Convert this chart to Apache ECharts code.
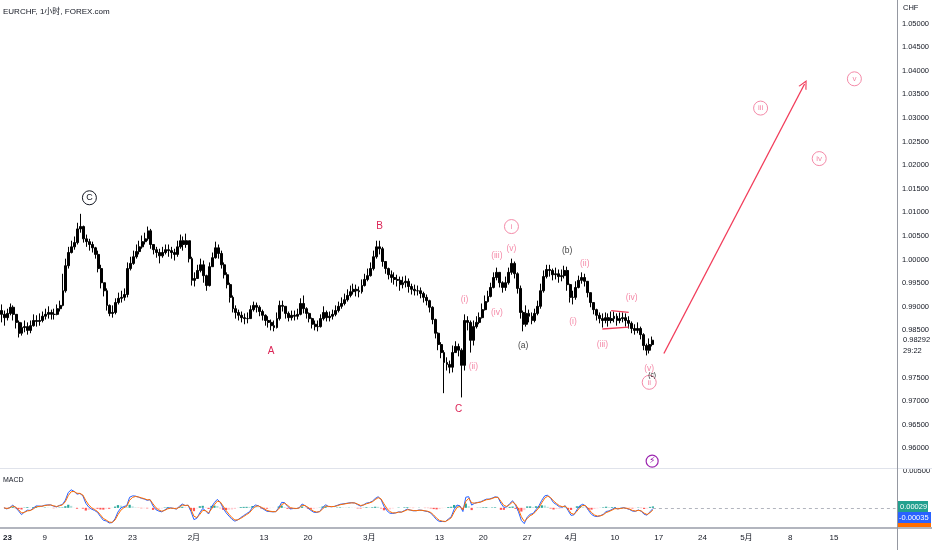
<!DOCTYPE html>
<html>
<head>
<meta charset="utf-8">
<title>EURCHF, 1小时</title>
<script src="https://cdn.jsdelivr.net/npm/echarts/dist/echarts.min.js"></script>
<style>
html, body { margin: 0; padding: 0; background: #fff; }
#main { width: 932px; height: 550px; }
</style>
</head>
<body>
<div id="main"></div>
<script>
// EURCHF 8小时K线 (由1小时图读取), 2023-01-02 起
var firstOpen = 0.9892;
var closes = [
  0.9884, 0.9877, 0.9886, 0.9899, 0.9884, 0.9867, 0.9844, 0.9856, 0.9858, 0.9850,
  0.9860, 0.9871, 0.9869, 0.9871, 0.9880, 0.9884, 0.9888, 0.9884, 0.9884, 0.9896,
  0.9903, 0.9934, 0.9987, 1.0015, 1.0027, 1.0036, 1.0065, 1.0070, 1.0044, 1.0038,
  1.0032, 1.0025, 1.0011, 0.9981, 0.9951, 0.9934, 0.9903, 0.9886, 0.9888, 0.9909,
  0.9918, 0.9920, 0.9926, 0.9981, 0.9992, 1.0006, 1.0017, 1.0027, 1.0038, 1.0044,
  1.0061, 1.0032, 1.0021, 1.0015, 1.0008, 1.0015, 1.0021, 1.0019, 1.0015, 1.0011,
  1.0027, 1.0040, 1.0032, 1.0040, 1.0002, 0.9956, 0.9960, 0.9977, 0.9989, 0.9966,
  0.9945, 0.9985, 1.0004, 1.0025, 1.0013, 0.9989, 0.9968, 0.9947, 0.9920, 0.9896,
  0.9888, 0.9882, 0.9877, 0.9875, 0.9875, 0.9894, 0.9903, 0.9899, 0.9890, 0.9882,
  0.9871, 0.9867, 0.9860, 0.9856, 0.9875, 0.9903, 0.9901, 0.9886, 0.9877, 0.9882,
  0.9880, 0.9884, 0.9907, 0.9896, 0.9886, 0.9875, 0.9863, 0.9858, 0.9858, 0.9875,
  0.9888, 0.9877, 0.9880, 0.9884, 0.9892, 0.9901, 0.9907, 0.9915, 0.9924, 0.9932,
  0.9937, 0.9934, 0.9932, 0.9945, 0.9958, 0.9966, 0.9981, 1.0006, 1.0027, 1.0023,
  0.9996, 0.9981, 0.9968, 0.9962, 0.9958, 0.9956, 0.9947, 0.9951, 0.9954, 0.9943,
  0.9937, 0.9934, 0.9934, 0.9928, 0.9920, 0.9913, 0.9899, 0.9873, 0.9844, 0.9820,
  0.9803, 0.9782, 0.9778, 0.9772, 0.9803, 0.9816, 0.9808, 0.9776, 0.9871, 0.9867,
  0.9829, 0.9858, 0.9867, 0.9877, 0.9894, 0.9911, 0.9922, 0.9941, 0.9962, 0.9973,
  0.9951, 0.9941, 0.9951, 0.9973, 0.9992, 0.9970, 0.9939, 0.9888, 0.9863, 0.9886,
  0.9880, 0.9871, 0.9886, 0.9901, 0.9934, 0.9964, 0.9979, 0.9977, 0.9968, 0.9970,
  0.9964, 0.9966, 0.9977, 0.9947, 0.9920, 0.9920, 0.9941, 0.9956, 0.9962, 0.9954,
  0.9930, 0.9909, 0.9894, 0.9882, 0.9875, 0.9871, 0.9877, 0.9871, 0.9875, 0.9880,
  0.9871, 0.9875, 0.9877, 0.9871, 0.9865, 0.9854, 0.9850, 0.9854, 0.9841, 0.9818,
  0.9808, 0.9820, 0.98292
];
var highs = [
  0.9905, 0.9892, 0.9896, 0.9907, 0.9903, 0.9884, 0.9871, 0.9867, 0.9871, 0.9867,
  0.9871, 0.9884, 0.9882, 0.9886, 0.9890, 0.9896, 0.9901, 0.9894, 0.9896, 0.9905,
  0.9913, 0.9970, 1.0002, 1.0027, 1.0040, 1.0049, 1.0078, 1.0097, 1.0072, 1.0053,
  1.0044, 1.0038, 1.0027, 1.0019, 0.9989, 0.9951, 0.9939, 0.9905, 0.9903, 0.9918,
  0.9930, 0.9934, 0.9939, 0.9994, 1.0006, 1.0019, 1.0032, 1.0040, 1.0051, 1.0057,
  1.0070, 1.0065, 1.0032, 1.0027, 1.0023, 1.0027, 1.0032, 1.0032, 1.0027, 1.0023,
  1.0040, 1.0053, 1.0049, 1.0055, 1.0040, 1.0006, 0.9973, 0.9989, 1.0002, 0.9998,
  0.9968, 0.9994, 1.0015, 1.0038, 1.0032, 1.0019, 0.9994, 0.9973, 0.9951, 0.9924,
  0.9903, 0.9894, 0.9890, 0.9886, 0.9888, 0.9903, 0.9911, 0.9909, 0.9903, 0.9894,
  0.9884, 0.9880, 0.9873, 0.9871, 0.9888, 0.9913, 0.9913, 0.9901, 0.9890, 0.9892,
  0.9892, 0.9896, 0.9918, 0.9924, 0.9899, 0.9888, 0.9877, 0.9871, 0.9871, 0.9884,
  0.9901, 0.9892, 0.9890, 0.9894, 0.9903, 0.9911, 0.9920, 0.9928, 0.9937, 0.9945,
  0.9949, 0.9947, 0.9943, 0.9958, 0.9970, 0.9981, 0.9994, 1.0019, 1.0040, 1.0040,
  1.0027, 0.9996, 0.9983, 0.9977, 0.9973, 0.9968, 0.9964, 0.9964, 0.9966, 0.9960,
  0.9949, 0.9947, 0.9945, 0.9941, 0.9932, 0.9926, 0.9915, 0.9901, 0.9875, 0.9846,
  0.9825, 0.9808, 0.9793, 0.9786, 0.9818, 0.9827, 0.9822, 0.9812, 0.9884, 0.9880,
  0.9871, 0.9871, 0.9880, 0.9888, 0.9907, 0.9924, 0.9934, 0.9951, 0.9973, 0.9983,
  0.9973, 0.9954, 0.9964, 0.9983, 1.0002, 0.9996, 0.9973, 0.9945, 0.9892, 0.9903,
  0.9894, 0.9888, 0.9896, 0.9913, 0.9949, 0.9977, 0.9989, 0.9989, 0.9981, 0.9983,
  0.9979, 0.9979, 0.9987, 0.9985, 0.9949, 0.9934, 0.9954, 0.9966, 0.9973, 0.9970,
  0.9951, 0.9930, 0.9909, 0.9896, 0.9888, 0.9886, 0.9888, 0.9886, 0.9890, 0.9890,
  0.9886, 0.9888, 0.9888, 0.9886, 0.9880, 0.9869, 0.9863, 0.9867, 0.9858, 0.9844,
  0.9822, 0.9833, 0.9837
];
var lows = [
  0.9867, 0.9860, 0.9871, 0.9882, 0.9871, 0.9854, 0.9835, 0.9839, 0.9846, 0.9841,
  0.9844, 0.9858, 0.9858, 0.9860, 0.9867, 0.9873, 0.9875, 0.9873, 0.9873, 0.9882,
  0.9890, 0.9901, 0.9930, 0.9981, 1.0013, 1.0021, 1.0032, 1.0057, 1.0036, 1.0027,
  1.0019, 1.0015, 1.0002, 0.9973, 0.9939, 0.9922, 0.9892, 0.9880, 0.9877, 0.9884,
  0.9905, 0.9909, 0.9913, 0.9920, 0.9977, 0.9989, 1.0002, 1.0011, 1.0023, 1.0032,
  1.0040, 1.0023, 1.0011, 1.0004, 0.9992, 1.0004, 1.0011, 1.0006, 1.0002, 0.9998,
  1.0006, 1.0023, 1.0019, 1.0025, 0.9994, 0.9945, 0.9943, 0.9960, 0.9973, 0.9951,
  0.9934, 0.9943, 0.9985, 1.0002, 1.0002, 0.9981, 0.9960, 0.9939, 0.9909, 0.9888,
  0.9875, 0.9871, 0.9867, 0.9863, 0.9865, 0.9875, 0.9890, 0.9888, 0.9880, 0.9871,
  0.9860, 0.9856, 0.9850, 0.9848, 0.9854, 0.9871, 0.9890, 0.9875, 0.9869, 0.9871,
  0.9871, 0.9873, 0.9882, 0.9886, 0.9875, 0.9867, 0.9854, 0.9850, 0.9848, 0.9856,
  0.9871, 0.9869, 0.9869, 0.9873, 0.9880, 0.9888, 0.9896, 0.9903, 0.9911, 0.9920,
  0.9926, 0.9922, 0.9920, 0.9928, 0.9943, 0.9954, 0.9964, 0.9977, 1.0002, 1.0011,
  0.9985, 0.9970, 0.9958, 0.9951, 0.9947, 0.9943, 0.9934, 0.9939, 0.9941, 0.9930,
  0.9926, 0.9924, 0.9924, 0.9918, 0.9909, 0.9903, 0.9888, 0.9863, 0.9833, 0.9808,
  0.9791, 0.9717, 0.9765, 0.9759, 0.9761, 0.9803, 0.9795, 0.9708, 0.9765, 0.9850,
  0.9803, 0.9818, 0.9854, 0.9863, 0.9875, 0.9892, 0.9909, 0.9920, 0.9939, 0.9956,
  0.9941, 0.9930, 0.9934, 0.9947, 0.9968, 0.9960, 0.9928, 0.9875, 0.9848, 0.9858,
  0.9867, 0.9863, 0.9867, 0.9882, 0.9896, 0.9930, 0.9960, 0.9964, 0.9956, 0.9958,
  0.9951, 0.9954, 0.9960, 0.9934, 0.9909, 0.9905, 0.9915, 0.9939, 0.9949, 0.9943,
  0.9920, 0.9899, 0.9884, 0.9871, 0.9865, 0.9856, 0.9865, 0.9858, 0.9865, 0.9867,
  0.9860, 0.9865, 0.9867, 0.9858, 0.9854, 0.9844, 0.9841, 0.9844, 0.9831, 0.9808,
  0.9797, 0.9801, 0.9816
];

// 时间轴刻度 (8小时一格, 每周15格)
var slotCount = 306;
var xTickIndex = [0, 15, 30, 45, 66, 90, 105, 126, 150, 165, 180, 195, 210, 225, 240, 255, 270, 285];
var xTickText = ['23', '9', '16', '23', '2月', '13', '20', '3月', '13', '20', '27', '4月', '10', '17', '24', '5月', '8', '15'];

// 右侧MACD读数 / 倒计时
var macdReadouts = ['0.00029', '-0.00035'];
var macdTopTick = '0.00500';
var countdown = '29:22';

// 波浪标注: [文字, 位置(格), 价格, 样式]
var waveLabels = [
  ['C', 29.5, 1.0131, 'blackCircle'],
  ['A', 92, 0.9806, 'red'],
  ['B', 129, 1.0070, 'red'],
  ['C', 156.3, 0.9683, 'red'],
  ['(i)', 157.7, 0.9915, 'pink'],
  ['(ii)', 160.8, 0.9774, 'pink'],
  ['(iii)', 169.3, 1.0008, 'pink'],
  ['(iv)', 169.3, 0.9888, 'pink'],
  ['(v)', 174.4, 1.0023, 'pink'],
  ['i', 174.1, 1.0070, 'pinkCircle'],
  ['(a)', 178.2, 0.9818, 'gray'],
  ['(b)', 193.2, 1.0019, 'gray'],
  ['(i)', 195.2, 0.9869, 'pink'],
  ['(ii)', 199, 0.9992, 'pink'],
  ['(iii)', 205.1, 0.9820, 'pink'],
  ['(iv)', 214.6, 0.9920, 'pink'],
  ['(v)', 220.8, 0.9768, 'pink'],
  ['(c)', 221.5, 0.9756, 'small'],
  ['ii', 220.8, 0.9740, 'pinkCircle'],
  ['iii', 259.3, 1.0321, 'pinkCircle'],
  ['iv', 279.4, 1.0214, 'pinkCircle'],
  ['v', 290.7, 1.0383, 'pinkCircle']
];
// 画线: [起点格, 起点价, 终点格, 终点价, 是否箭头]
var drawLines = [
  [226, 0.9801, 274, 1.0372, true],
  [205, 0.9853, 214, 0.9857, false],
  [208, 0.9892, 214, 0.9888, false]
];

var RED = '#dc2456';
var PINK = '#f48aa8';
var AXIS_FONT = "'Liberation Sans', 'Noto Sans CJK SC', sans-serif";

var waveStyles = {
  red: { color: RED, size: 10, circle: false },
  pink: { color: PINK, size: 8.5, circle: false },
  gray: { color: '#444', size: 8.5, circle: false },
  small: { color: '#222', size: 6.5, circle: false },
  pinkCircle: { color: PINK, size: 8, circle: true },
  blackCircle: { color: '#131722', size: 9, circle: true }
};

// 类目: 去掉周末的8小时时段
var categories = [];
(function () {
  var d = new Date(Date.UTC(2023, 0, 2));
  while (categories.length < slotCount) {
    var wd = d.getUTCDay();
    if (wd !== 0 && wd !== 6) {
      for (var h = 0; h < 24 && categories.length < slotCount; h += 8) {
        categories.push(d.toISOString().slice(0, 10) + ' ' + (h < 10 ? '0' + h : h) + ':00');
      }
    }
    d.setUTCDate(d.getUTCDate() + 1);
  }
})();

var candles = closes.map(function (c, i) {
  return [i ? closes[i - 1] : firstOpen, c, lows[i], highs[i]];
});

// MACD 12/26/9 (小时) 折算到8小时K线的等效周期
function ema(src, n) {
  var a = 2 / (n + 1), out = [], prev = src[0];
  for (var i = 0; i < src.length; i++) {
    prev = a * src[i] + (1 - a) * prev;
    out.push(prev);
  }
  return out;
}
var fast = ema(closes, 2.375), slow = ema(closes, 4.125);
var macd = fast.map(function (v, i) { return v - slow[i]; });
var signal = ema(macd, 2);
var hist = macd.map(function (v, i) {
  var h = v - signal[i];
  var prevH = i ? macd[i - 1] - signal[i - 1] : 0;
  var col = h >= 0 ? (h >= prevH ? '#26a69a' : '#b2dfdb') : (h <= prevH ? '#ff5252' : '#ffcdd2');
  return { value: h, itemStyle: { color: col } };
});

var waveMarks = waveLabels.map(function (w) {
  var st = waveStyles[w[3]];
  return {
    coord: [Math.round(w[1]), w[2]],
    symbol: st.circle ? 'circle' : 'rect',
    symbolSize: st.circle ? 14 : 1,
    itemStyle: st.circle ? { color: '#fff', borderColor: st.color, borderWidth: 1 } : { color: 'rgba(0,0,0,0)' },
    label: {
      show: true, position: 'inside', formatter: w[0], color: st.color,
      fontSize: st.size, fontFamily: 'Liberation Sans, sans-serif'
    }
  };
});
waveMarks.push({
  coord: [222, 0.9573], symbol: 'circle', symbolSize: 12,
  itemStyle: { color: '#fff', borderColor: '#9c27b0', borderWidth: 1.2 },
  label: { show: true, position: 'inside', formatter: '⚡', color: '#9c27b0', fontSize: 8.5, fontFamily: 'DejaVu Sans' }
});

var arrowHead = 'path://M0,10 L5,0 L10,10 L8.6,10 L5,2.8 L1.4,10 Z';
var lineMarks = drawLines.map(function (l) {
  return [
    { coord: [l[0], l[1]], symbol: 'none' },
    { coord: [l[2], l[3]], symbol: l[4] ? arrowHead : 'none', symbolSize: [9, 9] }
  ];
});

var lastClose = closes[closes.length - 1];

var myChart = echarts.init(document.getElementById('main'));

var option = {
  animation: false,
  backgroundColor: '#fff',
  grid: [
    { left: 0, right: 35, top: -1, height: 473 },
    { left: 0, right: 35, top: 469, height: 59 }
  ],
  xAxis: [{
    type: 'category', gridIndex: 0, data: categories, boundaryGap: true, show: false
  }, {
    type: 'category', gridIndex: 1, data: categories, boundaryGap: true,
    axisLine: { show: false },
    axisTick: { show: false },
    splitLine: { show: false },
    axisLabel: {
      show: true, margin: 6, hideOverlap: false,
      interval: function (idx) { return xTickIndex.indexOf(idx) >= 0; },
      formatter: function (v, idx) {
        var k = xTickIndex.indexOf(idx);
        if (k < 0) return '';
        return k === 0 ? '{y|' + xTickText[k] + '}' : '{d|' + xTickText[k] + '}';
      },
      rich: {
        y: { fontWeight: 'bold', fontSize: 8, color: '#131722', fontFamily: AXIS_FONT, padding: [0, 0, 0, 7] },
        d: { fontSize: 8, color: '#131722', fontFamily: AXIS_FONT, padding: [0, 6, 0, 0] }
      }
    }
  }],
  yAxis: [{
    type: 'value', gridIndex: 0, position: 'right', min: 0.955, max: 1.055, interval: 0.005,
    axisLine: { show: false }, axisTick: { show: false }, splitLine: { show: false },
    axisLabel: {
      margin: 5, color: '#131722', fontSize: 7.5, fontFamily: AXIS_FONT,
      formatter: function (v) {
        if (v < 0.9599 || v > 1.0501) return '';
        if (v < lastClose + 0.0015 && v > lastClose - 0.004) return '';
        return v.toFixed(5);
      }
    }
  }, {
    type: 'value', gridIndex: 1, position: 'right', min: -0.0026, max: 0.005,
    axisLine: { show: false }, axisTick: { show: false }, splitLine: { show: false },
    axisLabel: { show: false }
  }],
  series: [{
    name: 'EURCHF',
    type: 'candlestick',
    xAxisIndex: 0, yAxisIndex: 0,
    data: candles,
    barWidth: 2.4,
    itemStyle: { color: '#000', color0: '#000', borderColor: '#000', borderColor0: '#000', borderWidth: 1 },
    markPoint: { silent: true, animation: false, z: 10, data: waveMarks },
    markLine: {
      silent: true, animation: false, z: 10, symbol: ['none', 'none'],
      label: { show: false },
      lineStyle: { color: '#f23c5a', width: 1.3, type: 'solid' },
      emphasis: { disabled: true },
      data: lineMarks
    }
  }, {
    name: 'Histogram', type: 'bar', xAxisIndex: 1, yAxisIndex: 1,
    data: hist, barWidth: 2.2,
    markLine: {
      silent: true, animation: false, symbol: ['none', 'none'], label: { show: false },
      lineStyle: { color: '#b2b5be', width: 1, type: [3, 3] },
      data: [[{ coord: [closes.length - 1, 0] }, { coord: [slotCount - 1, 0] }]]
    }
  }, {
    name: 'MACD', type: 'line', xAxisIndex: 1, yAxisIndex: 1,
    data: macd, symbol: 'none', lineStyle: { color: '#2962ff', width: 1 }
  }, {
    name: 'Signal', type: 'line', xAxisIndex: 1, yAxisIndex: 1,
    data: signal, symbol: 'none', lineStyle: { color: '#ff6d00', width: 1 }
  }]
};

myChart.setOption(option);

// 边框、标题与右侧标签
var priceY = myChart.convertToPixel({ yAxisIndex: 0 }, lastClose);
var labelFont = '7.5px ' + AXIS_FONT;
myChart.setOption({
  graphic: [
    { type: 'text', x: 903, y: 471, style: { text: macdTopTick, fill: '#131722', font: labelFont, verticalAlign: 'middle' }, z: 11 },
    { type: 'rect', shape: { x: 898, y: 460, width: 34, height: 9 }, style: { fill: '#fff' }, z: 12 },
    { type: 'line', shape: { x1: 0, y1: 468.5, x2: 932, y2: 468.5 }, style: { stroke: '#e0e3eb', lineWidth: 1 }, z: 14 },
    { type: 'line', shape: { x1: 0, y1: 528, x2: 932, y2: 528 }, style: { stroke: '#b2b5be', lineWidth: 2 }, z: 14 },
    { type: 'line', shape: { x1: 897.5, y1: 0, x2: 897.5, y2: 550 }, style: { stroke: '#9598a1', lineWidth: 1 }, z: 14 },
    { type: 'text', left: 3, top: 8, style: { text: 'EURCHF, 1小时, FOREX.com', fill: '#131722', font: '8px ' + AXIS_FONT }, z: 11 },
    { type: 'text', left: 3, top: 477, style: { text: 'MACD', fill: '#131722', font: '7px ' + AXIS_FONT }, z: 11 },
    { type: 'text', left: 903, top: 4, style: { text: 'CHF', fill: '#131722', font: labelFont }, z: 11 },
    { type: 'rect', shape: { x: 898, y: priceY - 7, width: 34, height: 24 }, style: { fill: '#fff' }, z: 15 },
    { type: 'text', x: 903, y: priceY, style: { text: lastClose.toFixed(5), fill: '#131722', font: labelFont, verticalAlign: 'middle' }, z: 16 },
    { type: 'text', x: 903, y: priceY + 11, style: { text: countdown, fill: '#131722', font: labelFont, verticalAlign: 'middle' }, z: 16 },
    { type: 'rect', shape: { x: 898, y: 501, width: 30, height: 11 }, style: { fill: '#22a08f' }, z: 15 },
    { type: 'text', x: 900, y: 506.5, style: { text: macdReadouts[0], fill: '#fff', font: labelFont, verticalAlign: 'middle' }, z: 16 },
    { type: 'rect', shape: { x: 898, y: 512, width: 33, height: 11 }, style: { fill: '#2962ff' }, z: 15 },
    { type: 'text', x: 899, y: 517.5, style: { text: macdReadouts[1], fill: '#fff', font: labelFont, verticalAlign: 'middle' }, z: 16 },
    { type: 'rect', shape: { x: 898, y: 523, width: 33, height: 4 }, style: { fill: '#ff6d00' }, z: 15 }
  ]
});

window.addEventListener('resize', function () {
  myChart.resize();
});
</script>
</body>
</html>
